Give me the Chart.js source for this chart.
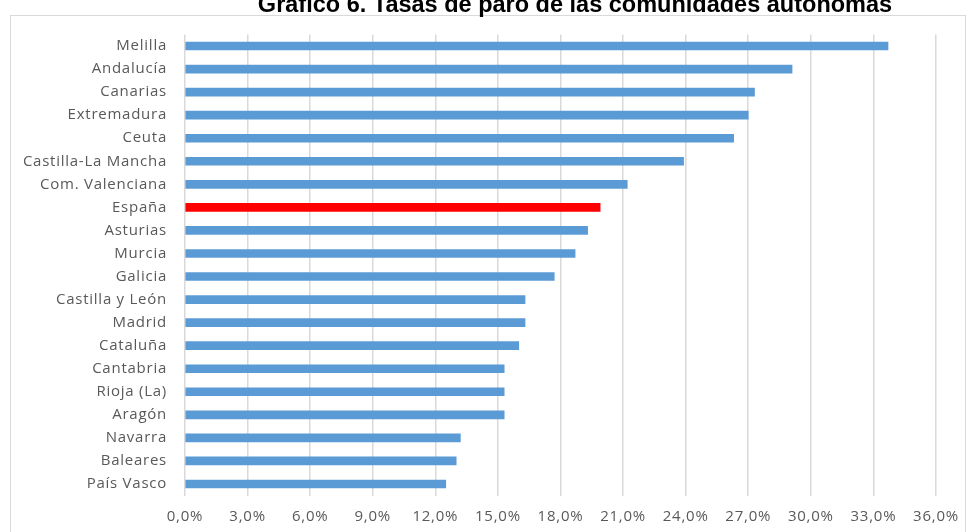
<!DOCTYPE html>
<html>
<head>
<meta charset="utf-8">
<script src="https://cdn.jsdelivr.net/npm/chart.js@4/dist/chart.umd.min.js"></script>
<style>
html,body{margin:0;padding:0;background:#fff;}
#wrap{width:969px;height:532px;position:relative;}
</style>
</head>
<body>
<div id="wrap"><canvas id="c" width="969" height="532"></canvas></div>
<script>
const titleText = "Gráfico 6. Tasas de paro de las comunidades autónomas";
const categories = ["Melilla","Andalucía","Canarias","Extremadura","Ceuta","Castilla-La Mancha","Com. Valenciana","España","Asturias","Murcia","Galicia","Castilla y León","Madrid","Cataluña","Cantabria","Rioja (La)","Aragón","Navarra","Baleares","País Vasco"];
const values = [33.7,29.1,27.3,27.0,26.3,23.9,21.2,19.9,19.3,18.7,17.7,16.3,16.3,16.0,15.3,15.3,15.3,13.2,13.0,12.5];
const highlight = "España";
const xMin = 0, xMax = 36, xStep = 3;

const barColors = categories.map(c => c === highlight ? "#FF0000" : "#5B9BD5");

const frame = {
  id: "frame",
  beforeDraw(chart) {
    const ctx = chart.ctx;
    ctx.save();
    ctx.strokeStyle = "#D9D9D9";
    ctx.lineWidth = 1;
    ctx.strokeRect(10.5, 15.5, 955, 530);
    ctx.restore();
    ctx.letterSpacing = "0.75px";
  },
  afterDraw(chart) {
    const ctx = chart.ctx;
    ctx.letterSpacing = "0px";
    ctx.save();
    ctx.fillStyle = "#000";
    ctx.font = "bold 23.5px 'Liberation Sans', Arial, sans-serif";
    ctx.textAlign = "center";
    ctx.textBaseline = "alphabetic";
    ctx.fillText(titleText, 575, 12);
    ctx.restore();
  }
};

new Chart(document.getElementById("c"), {
  type: "bar",
  data: {
    labels: categories,
    datasets: [{
      data: values,
      backgroundColor: barColors,
      borderWidth: 0,
      barThickness: 8
    }]
  },
  options: {
    indexAxis: "y",
    responsive: false,
    animation: false,
    layout: { padding: { left: 0, right: 33, top: 34.5, bottom: 0 } },
    plugins: { legend: { display: false }, tooltip: { enabled: false }, title: { display: false } },
    scales: {
      x: {
        min: xMin, max: xMax,
        ticks: {
          stepSize: xStep,
          color: "#595959",
          font: { family: "'Open Sans', sans-serif", size: 15 },
          padding: 12,
          callback: v => v.toFixed(1).replace(".", ",") + "%"
        },
        grid: { color: "#D9D9D9", lineWidth: 1.5, drawTicks: false },
        border: { display: false },
        afterFit(s) { s.height = 36.5; }
      },
      y: {
        ticks: {
          color: "#595959",
          font: { family: "'Open Sans', sans-serif", size: 15 },
          padding: 18,
          autoSkip: false
        },
        grid: { display: false, drawTicks: false },
        border: { display: false },
        afterFit(s) { s.width = 185; }
      }
    }
  },
  plugins: [frame]
});
</script>
</body>
</html>
